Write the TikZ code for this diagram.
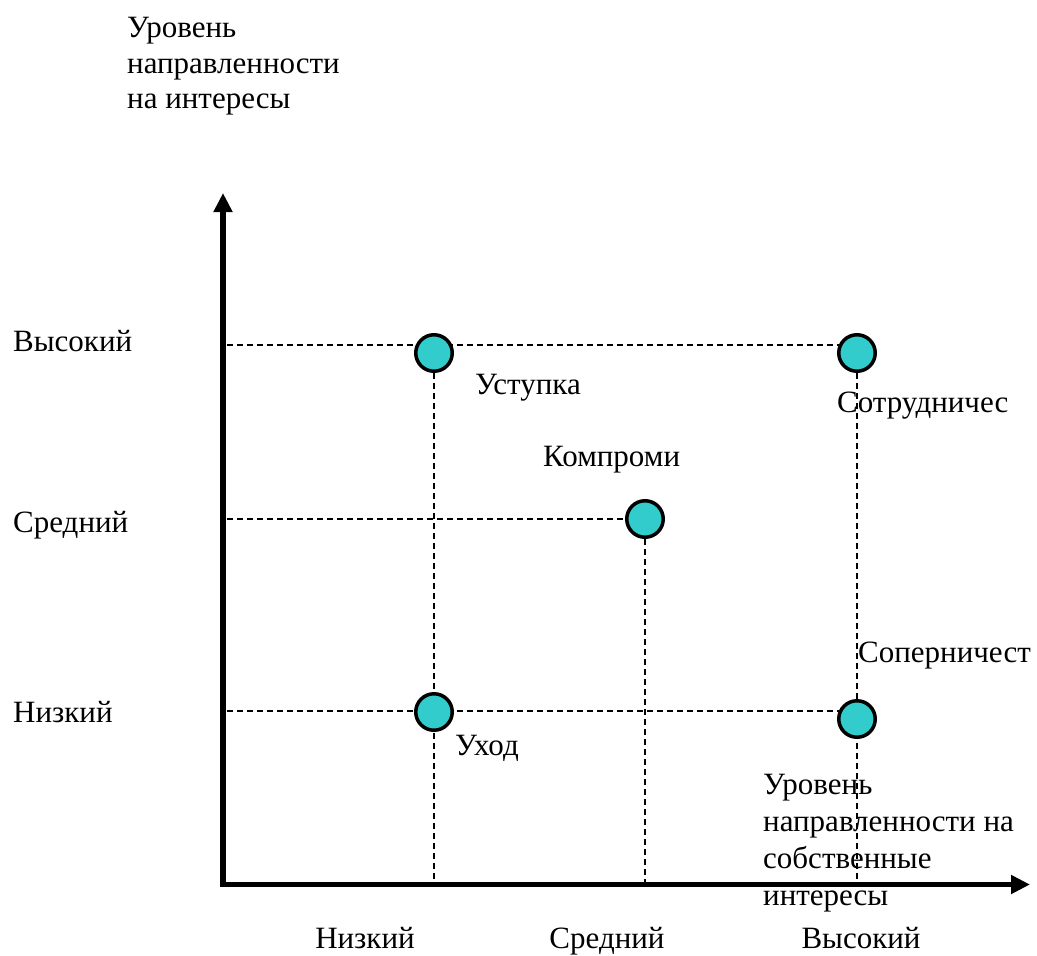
\documentclass[tikz,border=0pt]{standalone}
\usepackage{fontspec}
\setmainfont{Liberation Serif}
\usetikzlibrary{arrows.meta}
\definecolor{dotfill}{HTML}{33CCCC}
\pgfdeclarelayer{bg}
\pgfsetlayers{bg,main}
\begin{document}
\begin{tikzpicture}[x=1pt,y=-1pt,
  lbl/.style={font=\fontsize{31}{35.5}\selectfont, inner sep=0pt, align=left},
  dot/.style={circle, draw=black, line width=3.5pt, fill=dotfill, minimum size=36.5pt, inner sep=0pt},
  guide/.style={dash pattern=on 6pt off 4pt, line width=1.5pt},
  axis/.style={line width=5.5pt, -{Triangle[length=19pt,width=18pt]}}]
\useasboundingbox (0,0) rectangle (1037,956);

% circles
\node[dot] (ust)  at (434,353) {};
\node[dot] (sotr) at (857,353) {};
\node[dot] (komp) at (645,519) {};
\node[dot] (uhod) at (434,712) {};
\node[dot] (sop)  at (857,719) {};

% axis coordinates
\coordinate (ybot)  at (223,887);
\coordinate (ytop)  at (223,193);
\coordinate (xbeg)  at (220,884.5);
\coordinate (xend)  at (1030,884.5);
\coordinate (yhigh) at (227,345);
\coordinate (ymid)  at (227,519);
\coordinate (ylow)  at (227,711);
\coordinate (xlow)  at (434,883);
\coordinate (xmid)  at (645,883);
\coordinate (xhigh) at (857,883);

\begin{pgfonlayer}{bg}
\draw[guide] (yhigh) -- (yhigh -| sotr);
\draw[guide] (ymid) -- (komp);
\draw[guide] (ylow) -- (ylow -| sop);
\draw[guide] (ust) -- (xlow);
\draw[guide] (komp) -- (xmid);
\draw[guide] (sotr) -- (xhigh);
\end{pgfonlayer}

\draw[axis] (ybot) -- (ytop);
\draw[axis] (xbeg) -- (xend);

% labels
\node[lbl, anchor=north west] (ytitle) at (127,17) {Уровень\\направленности\\на интересы};
\node[lbl, anchor=north west, font=\fontsize{31}{37}\selectfont] (xtitle) at (763,774) {Уровень\\направленности на\\собственные\\интересы};

\node[lbl, anchor=base west] (lh) at (13,351) {Высокий};
\node[lbl, anchor=base west] (lm) at (13,532) {Средний};
\node[lbl, anchor=base west] (ll) at (13,722) {Низкий};

\node[lbl, anchor=base] (bl) at (365,948) {Низкий};
\node[lbl, anchor=base] (bm) at (607,948) {Средний};
\node[lbl, anchor=base] (bh) at (861,948) {Высокий};

\node[lbl, anchor=base west] (tust)  at (475,394) {Уступка};
\node[lbl, anchor=base west] (tsotr) at (837,412) {Сотрудничес};
\node[lbl, anchor=base west] (tkomp) at (543,466) {Компроми};
\node[lbl, anchor=base west] (tsop)  at (858,662) {Соперничест};
\node[lbl, anchor=base west] (tuhod) at (455,755) {Уход};
\end{tikzpicture}
\end{document}
